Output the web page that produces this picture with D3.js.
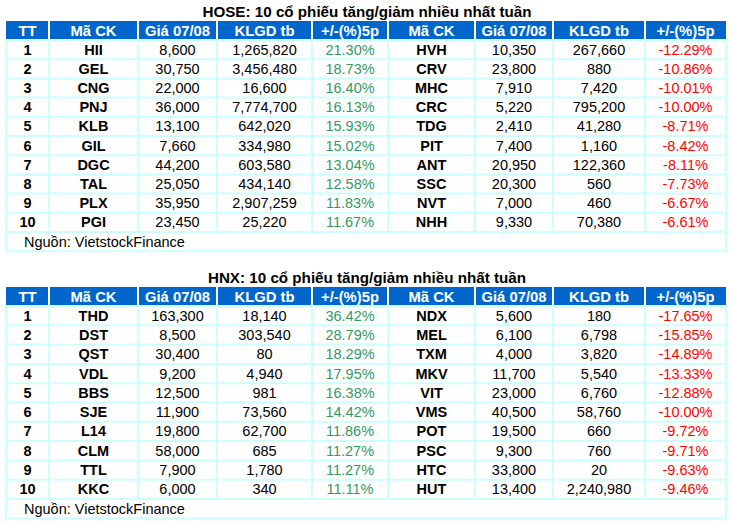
<!DOCTYPE html>
<html>
<head>
<meta charset="utf-8">
<script src="https://cdn.jsdelivr.net/npm/d3@7"></script>
<style>
  body { margin: 0; background: #fff; }
  svg { display: block; font-family: "Liberation Sans", Arial, sans-serif; }
</style>
</head>
<body>
<div id="chart"></div>
<script>
const width = 731;
const height = 524;

// column headers
const headers = ["TT", "Mã CK", "Giá 07/08", "KLGD tb", "+/-(%)5p", "Mã CK", "Giá 07/08", "KLGD tb", "+/-(%)5p"];
const ranks = [1, 2, 3, 4, 5, 6, 7, 8, 9, 10];
const source = "Nguồn: VietstockFinance";

// HOSE
const hoseTitle = "HOSE: 10 cổ phiếu tăng/giảm nhiều nhất tuần";
const hoseUpCodes = ["HII", "GEL", "CNG", "PNJ", "KLB", "GIL", "DGC", "TAL", "PLX", "PGI"];
const hoseUpPrices = [8600, 30750, 22000, 36000, 13100, 7660, 44200, 25050, 35950, 23450];
const hoseUpVolumes = [1265820, 3456480, 16600, 7774700, 642020, 334980, 603580, 434140, 2907259, 25220];
const hoseUpChanges = [21.30, 18.73, 16.40, 16.13, 15.93, 15.02, 13.04, 12.58, 11.83, 11.67];
const hoseDownCodes = ["HVH", "CRV", "MHC", "CRC", "TDG", "PIT", "ANT", "SSC", "NVT", "NHH"];
const hoseDownPrices = [10350, 23800, 7910, 5220, 2410, 7400, 20950, 20300, 7000, 9330];
const hoseDownVolumes = [267660, 880, 7420, 795200, 41280, 1160, 122360, 560, 460, 70380];
const hoseDownChanges = [-12.29, -10.86, -10.01, -10.00, -8.71, -8.42, -8.11, -7.73, -6.67, -6.61];

// HNX
const hnxTitle = "HNX: 10 cổ phiếu tăng/giảm nhiều nhất tuần";
const hnxUpCodes = ["THD", "DST", "QST", "VDL", "BBS", "SJE", "L14", "CLM", "TTL", "KKC"];
const hnxUpPrices = [163300, 8500, 30400, 9200, 12500, 11900, 19800, 58000, 7900, 6000];
const hnxUpVolumes = [18140, 303540, 80, 4940, 981, 73560, 62700, 685, 1780, 340];
const hnxUpChanges = [36.42, 28.79, 18.29, 17.95, 16.38, 14.42, 11.86, 11.27, 11.27, 11.11];
const hnxDownCodes = ["NDX", "MEL", "TXM", "MKV", "VIT", "VMS", "POT", "PSC", "HTC", "HUT"];
const hnxDownPrices = [5600, 6100, 4000, 11700, 23000, 40500, 19500, 9300, 33800, 13400];
const hnxDownVolumes = [180, 6798, 3820, 5540, 6760, 58760, 660, 760, 20, 2240980];
const hnxDownChanges = [-17.65, -15.85, -14.89, -13.33, -12.88, -10.00, -9.72, -9.71, -9.63, -9.46];

const colEdges = [6, 49, 138, 217, 312, 388, 475, 553, 645, 726];
const blue = "#0066cc";
const grid = "#ccffff";
const green = "#339966";
const red = "#ff0000";

const fmtNum = d3.format(",");
const fmtPct = d => d.toFixed(2) + "%";

const svg = d3.select("#chart").append("svg")
  .attr("width", width)
  .attr("height", height);

function drawTable(top, rowH, title, upCodes, upPrices, upVols, upChg, dnCodes, dnPrices, dnVols, dnChg) {
  const headerH = 19;
  const g = svg.append("g").attr("transform", `translate(0,${top})`);

  const y = d3.scaleBand()
    .domain(ranks)
    .range([headerH, headerH + rowH * ranks.length]);

  const left = colEdges[0], right = colEdges[colEdges.length - 1];
  const bottom = headerH + rowH * (ranks.length + 1);

  g.append("text")
    .attr("x", (left + right) / 2 + 1)
    .attr("y", -4)
    .attr("text-anchor", "middle")
    .attr("font-size", 15.2)
    .attr("font-weight", "bold")
    .text(title);

  // header
  g.append("rect")
    .attr("x", left).attr("y", 0)
    .attr("width", right - left).attr("height", headerH)
    .attr("fill", blue);

  g.selectAll(".hsep")
    .data(colEdges.slice(1, -1))
    .join("line")
    .attr("x1", d => d).attr("x2", d => d)
    .attr("y1", 0).attr("y2", headerH)
    .attr("stroke", "#fff").attr("stroke-width", 2);

  g.selectAll(".htxt")
    .data(headers)
    .join("text")
    .attr("x", (d, i) => (colEdges[i] + colEdges[i + 1]) / 2)
    .attr("y", headerH / 2 + 5)
    .attr("text-anchor", "middle")
    .attr("font-size", 14.8)
    .attr("font-weight", "bold")
    .attr("fill", "#fff")
    .text(d => d);

  // grid lines
  const hLines = ranks.map(r => y(r) + rowH).concat([headerH]);
  g.selectAll(".hl")
    .data(hLines)
    .join("line")
    .attr("x1", left).attr("x2", right)
    .attr("y1", d => d).attr("y2", d => d)
    .attr("stroke", grid).attr("stroke-width", 2);

  g.selectAll(".vl")
    .data(colEdges.slice(1, -1))
    .join("line")
    .attr("x1", d => d).attr("x2", d => d)
    .attr("y1", headerH).attr("y2", headerH + rowH * ranks.length)
    .attr("stroke", grid).attr("stroke-width", 2);

  g.append("rect")
    .attr("x", left).attr("y", headerH)
    .attr("width", right - left).attr("height", bottom - headerH)
    .attr("fill", "none")
    .attr("stroke", grid).attr("stroke-width", 2);

  // body
  const rows = ranks.map((r, i) => [
    {v: r, bold: true},
    {v: upCodes[i], bold: true},
    {v: fmtNum(upPrices[i])},
    {v: fmtNum(upVols[i])},
    {v: fmtPct(upChg[i]), color: green},
    {v: dnCodes[i], bold: true},
    {v: fmtNum(dnPrices[i])},
    {v: fmtNum(dnVols[i])},
    {v: fmtPct(dnChg[i]), color: red}
  ]);

  g.selectAll(".row")
    .data(rows)
    .join("g")
    .attr("transform", (d, i) => `translate(0,${y(ranks[i]) + rowH / 2 + 5})`)
    .selectAll("text")
    .data(d => d)
    .join("text")
    .attr("x", (d, i) => (colEdges[i] + colEdges[i + 1]) / 2)
    .attr("text-anchor", "middle")
    .attr("font-size", 14.5)
    .attr("font-weight", d => d.bold ? "bold" : "normal")
    .attr("fill", d => d.color || "#000")
    .text(d => d.v);

  g.append("text")
    .attr("x", 24)
    .attr("y", bottom - rowH / 2 + 5)
    .attr("font-size", 14.5)
    .text(source);
}

drawTable(21, 19.2, hoseTitle, hoseUpCodes, hoseUpPrices, hoseUpVolumes, hoseUpChanges,
  hoseDownCodes, hoseDownPrices, hoseDownVolumes, hoseDownChanges);
drawTable(287, 19.3, hnxTitle, hnxUpCodes, hnxUpPrices, hnxUpVolumes, hnxUpChanges,
  hnxDownCodes, hnxDownPrices, hnxDownVolumes, hnxDownChanges);
</script>
</body>
</html>
